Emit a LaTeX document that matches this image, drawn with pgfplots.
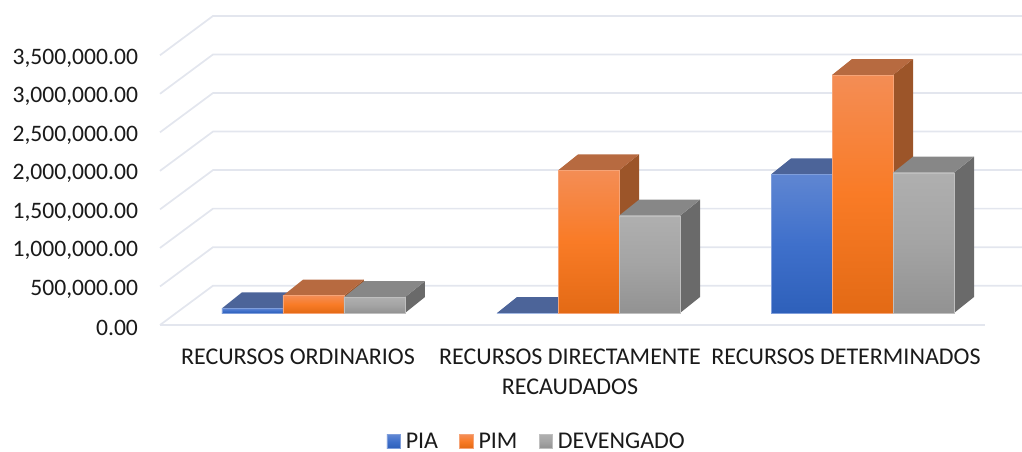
\documentclass[border=0pt]{standalone}
\usepackage{fontspec}
\setmainfont{Carlito}
\usepackage{pgfplots}
\pgfplotsset{compat=1.18}

% x axis runs in reference pixels, y axis in thousands
\definecolor{gridc}{HTML}{E3E6EE}
\definecolor{txt}{HTML}{1A1A1A}
\definecolor{aT}{HTML}{5F86D2}\definecolor{aM}{HTML}{3F70CB}\definecolor{aB}{HTML}{2E60BA}
\definecolor{aTop}{HTML}{4C6499}\definecolor{aSide}{HTML}{2F4A80}
\definecolor{bT}{HTML}{F48D55}\definecolor{bM}{HTML}{F97B26}\definecolor{bB}{HTML}{E36A15}
\definecolor{bTop}{HTML}{B76A40}\definecolor{bSide}{HTML}{9C5529}
\definecolor{cT}{HTML}{AFAFAF}\definecolor{cM}{HTML}{A4A4A4}\definecolor{cB}{HTML}{929292}
\definecolor{cTop}{HTML}{878787}\definecolor{cSide}{HTML}{6A6A6A}

\tikzset{
  frontA/.style={top color=aT,bottom color=aB,middle color=aM,draw=aT!80!white,line width=0.3pt},
  frontB/.style={top color=bT,bottom color=bB,middle color=bM,draw=bT!80!white,line width=0.3pt},
  frontC/.style={top color=cT,bottom color=cB,middle color=cM,draw=cT!80!white,line width=0.3pt},
  wallgrid/.style={draw=gridc,line width=1.3pt},
}

% #1 left edge, #2 value in thousands, #3 series letter, #4 options of the front face
\newcommand\cube[4]{%
  \pgfmathsetmacro\xa{#1+61}%
  \pgfmathsetmacro\xb{#1+20}%
  \pgfmathsetmacro\xc{#1+81}%
  \pgfmathsetmacro\ya{155.7+#2}%
  \pgfmathsetmacro\yb{155.7+#2+207.6}%
  \edef\tmp{%
    \noexpand\addplot[fill=#3Side,draw=none,forget plot] coordinates {(\xa,155.7)(\xc,363.3)(\xc,\yb)(\xa,\ya)} --cycle;
    \noexpand\addplot[fill=#3Top,draw=none,forget plot] coordinates {(#1,\ya)(\xa,\ya)(\xc,\yb)(\xb,\yb)} --cycle;
  }\tmp
  \edef\tmp{\noexpand\addplot[#4] coordinates {(#1,155.7)(\xa,155.7)(\xa,\ya)(#1,\ya)} --cycle;}\tmp
}

\begin{document}
\begin{tikzpicture}[x=1pt,y=1pt]
\useasboundingbox (-120pt,-94.5pt) rectangle (646.5pt,243.75pt);
\begin{axis}[
  at={(0pt,0pt)},anchor=origin,
  scale only axis,width=646.5pt,height=243.75pt,
  xmin=160,xmax=1022,ymin=0,ymax=4217,
  clip=false,
  axis line style={draw=none},
  major tick length=0pt,
  ytick={0,500,1000,1500,2000,2500,3000,3500},
  yticklabels={0.00,{500,000.00},{1,000,000.00},{1,500,000.00},{2,000,000.00},{2,500,000.00},{3,000,000.00},{3,500,000.00}},
  xtick={298,570,846},
  xticklabels={RECURSOS ORDINARIOS,{RECURSOS DIRECTAMENTE\\RECAUDADOS},RECURSOS DETERMINADOS},
  tick label style={text=txt},
  yticklabel style={font=\fontsize{17.7}{20}\selectfont,xshift=-13pt,yshift=-2pt},
  xticklabel style={font=\fontsize{18}{22.5}\selectfont,align=center,yshift=-14.5pt},
  legend columns=3,
  legend style={at={(0.4375,-0.358)},anchor=center,draw=none,fill=none,inner sep=0pt,
    font=\fontsize{18}{18}\selectfont,text=txt,
    /tikz/every even column/.append style={column sep=14pt},
    /tikz/every odd column/.append style={column sep=2pt}},
  legend cell align=left,
  legend image code/.code={\path[#1] (0pt,-5pt) rectangle (10pt,5pt);},
]
% wall and floor lines
\addplot[wallgrid,forget plot] coordinates {(160,0)(985,0)};
\addplot[wallgrid,forget plot] coordinates {(160,0)(213,510)(1022,510)};
\addplot[wallgrid,forget plot] coordinates {(160,500)(213,1010)(1022,1010)};
\addplot[wallgrid,forget plot] coordinates {(160,1000)(213,1510)(1022,1510)};
\addplot[wallgrid,forget plot] coordinates {(160,1500)(213,2010)(1022,2010)};
\addplot[wallgrid,forget plot] coordinates {(160,2000)(213,2510)(1022,2510)};
\addplot[wallgrid,forget plot] coordinates {(160,2500)(213,3010)(1022,3010)};
\addplot[wallgrid,forget plot] coordinates {(160,3000)(213,3510)(1022,3510)};
\addplot[wallgrid,forget plot] coordinates {(160,3500)(213,4010)(1022,4010)};
% RECURSOS ORDINARIOS
\cube{222}{61}{a}{frontA}
\addlegendentry{PIA}
\cube{283}{225}{b}{frontB}
\addlegendentry{PIM}
\cube{344}{205}{c}{frontC}
\addlegendentry{DEVENGADO}
% RECURSOS DIRECTAMENTE RECAUDADOS
\cube{497}{0}{a}{frontA,forget plot}
\cube{558}{1850}{b}{frontB,forget plot}
\cube{619}{1262}{c}{frontC,forget plot}
% RECURSOS DETERMINADOS
\cube{771}{1798}{a}{frontA,forget plot}
\cube{832}{3088}{b}{frontB,forget plot}
\cube{893}{1820}{c}{frontC,forget plot}
\end{axis}
\end{tikzpicture}
\end{document}
